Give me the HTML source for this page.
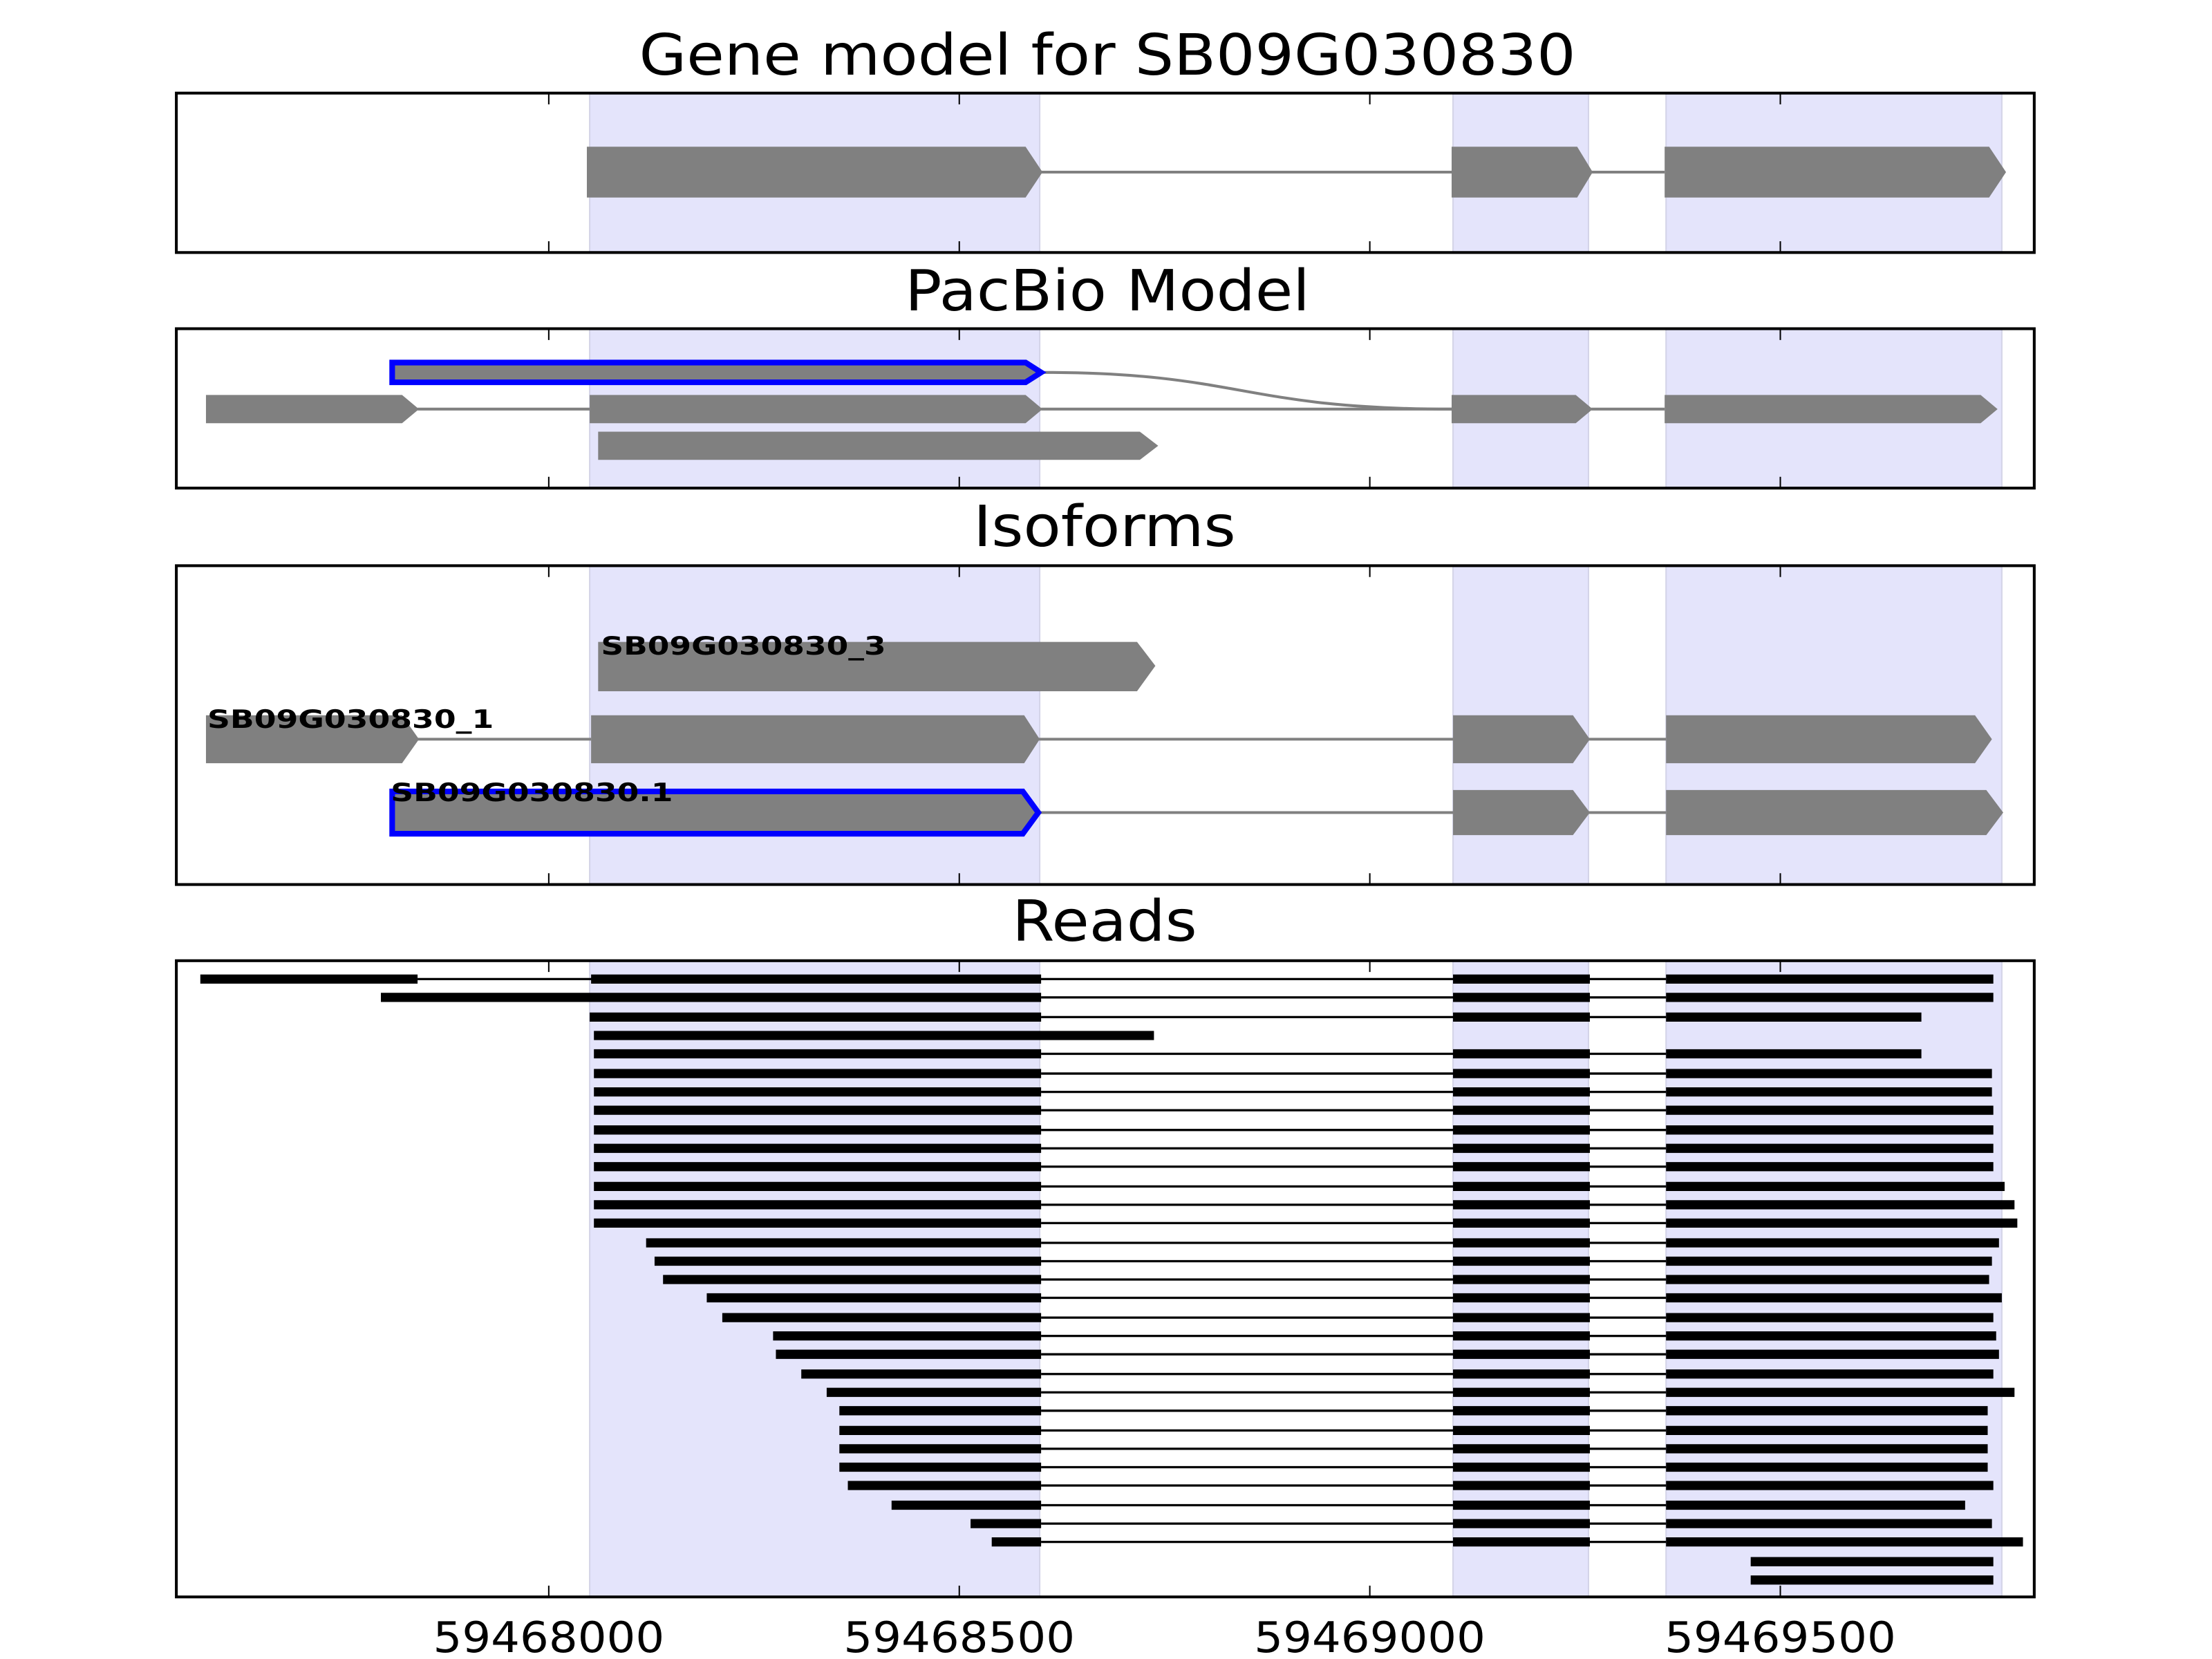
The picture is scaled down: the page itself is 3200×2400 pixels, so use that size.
<!DOCTYPE html>
<html><head><meta charset="utf-8"><style>html,body{margin:0;padding:0;background:#fff}svg{display:block}</style></head>
<body>
<svg xmlns="http://www.w3.org/2000/svg" width="3200" height="2400" viewBox="0 0 1568 1176" preserveAspectRatio="none" font-family="DejaVu Sans, Liberation Sans, sans-serif">
<rect width="1568" height="1176" fill="#fff"/>
<!-- Titles -->
<text x="785" y="53" font-size="40" text-anchor="middle" textLength="664" lengthAdjust="spacingAndGlyphs">Gene model for SB09G030830</text>
<text x="785" y="220" font-size="40" text-anchor="middle" textLength="287" lengthAdjust="spacingAndGlyphs">PacBio Model</text>
<text x="783" y="387" font-size="40" text-anchor="middle" textLength="186" lengthAdjust="spacingAndGlyphs">Isoforms</text>
<text x="783" y="667" font-size="40" text-anchor="middle" textLength="131" lengthAdjust="spacingAndGlyphs">Reads</text>

<g fill="#e4e4fb" stroke="#d4d4e8" stroke-width="1">
<rect x="418" y="66" width="319" height="113"/><rect x="1030" y="66" width="96" height="113"/><rect x="1181" y="66" width="238" height="113"/>
<rect x="418" y="233" width="319" height="113"/><rect x="1030" y="233" width="96" height="113"/><rect x="1181" y="233" width="238" height="113"/>
<rect x="418" y="401" width="319" height="226"/><rect x="1030" y="401" width="96" height="226"/><rect x="1181" y="401" width="238" height="226"/>
<rect x="418" y="681" width="319" height="451"/><rect x="1030" y="681" width="96" height="451"/><rect x="1181" y="681" width="238" height="451"/>
</g>

<!-- Panel 1 -->
<g stroke="#808080" stroke-width="2" fill="none"><line x1="737" y1="122" x2="1030" y2="122"/><line x1="1127" y1="122" x2="1180" y2="122"/></g>
<g fill="#808080">
<polygon points="416,104 727,104 739,122 727,140 416,140"/>
<polygon points="1029,104 1118,104 1129,122 1118,140 1029,140"/>
<polygon points="1180,104 1410,104 1422,122 1410,140 1180,140"/>
</g>

<!-- Panel 2 -->
<g stroke="#808080" stroke-width="2" fill="none">
<path d="M739,264 C880,264 880,290 1029,290"/>
<line x1="296" y1="290" x2="418" y2="290"/><line x1="738" y1="290" x2="1029" y2="290"/><line x1="1128" y1="290" x2="1180" y2="290"/>
</g>
<g fill="#808080">
<polygon points="146,280 285,280 297,290 285,300 146,300"/>
<polygon points="418,280 727,280 739,290 727,300 418,300"/>
<polygon points="1029,280 1117,280 1129,290 1117,300 1029,300"/>
<polygon points="1180,280 1404,280 1416,290 1404,300 1180,300"/>
<polygon points="424,306 808,306 821,316 808,326 424,326"/>
</g>
<polygon points="278,257 727,257 738,264 727,271 278,271" fill="#808080" stroke="#0000ff" stroke-width="4"/>

<!-- Panel 3 -->
<g stroke="#808080" stroke-width="2" fill="none">
<line x1="296" y1="524" x2="419" y2="524"/><line x1="736" y1="524" x2="1030" y2="524"/><line x1="1126" y1="524" x2="1181" y2="524"/>
<line x1="736" y1="576" x2="1030" y2="576"/><line x1="1126" y1="576" x2="1181" y2="576"/>
</g>
<g fill="#808080">
<polygon points="424,455 806,455 819,472 806,490 424,490"/>
<polygon points="146,507 285,507 297,524 285,541 146,541"/>
<polygon points="419,507 726,507 737,524 726,541 419,541"/>
<polygon points="1030,507 1115,507 1127,524 1115,541 1030,541"/>
<polygon points="1181,507 1400,507 1412,524 1400,541 1181,541"/>
<polygon points="1030,560 1115,560 1127,576 1115,592 1030,592"/>
<polygon points="1181,560 1408,560 1420,576 1408,592 1181,592"/>
</g>
<polygon points="278,561 725,561 736,576 725,591 278,591" fill="#808080" stroke="#0000ff" stroke-width="4"/>
<g font-size="18" font-weight="bold" fill="#000">
<text x="426" y="464" textLength="202" lengthAdjust="spacingAndGlyphs">SB09G030830_3</text>
<text x="147" y="516" textLength="203" lengthAdjust="spacingAndGlyphs">SB09G030830_1</text>
<text x="277" y="568" textLength="200" lengthAdjust="spacingAndGlyphs">SB09G030830.1</text>
</g>

<!-- Panel 4 reads -->
<g stroke="#000" stroke-linecap="butt">
<g stroke-width="1.6">
<line x1="296" y1="694" x2="1181" y2="694"/>
<line x1="738" y1="707" x2="1181" y2="707"/>
<line x1="738" y1="721" x2="1181" y2="721"/>
<line x1="738" y1="747" x2="1181" y2="747"/><line x1="738" y1="761" x2="1181" y2="761"/><line x1="738" y1="774" x2="1181" y2="774"/>
<line x1="738" y1="787" x2="1181" y2="787"/><line x1="738" y1="801" x2="1181" y2="801"/><line x1="738" y1="814" x2="1181" y2="814"/>
<line x1="738" y1="827" x2="1181" y2="827"/><line x1="738" y1="841" x2="1181" y2="841"/><line x1="738" y1="854" x2="1181" y2="854"/>
<line x1="738" y1="867" x2="1181" y2="867"/><line x1="738" y1="881" x2="1181" y2="881"/><line x1="738" y1="894" x2="1181" y2="894"/>
<line x1="738" y1="907" x2="1181" y2="907"/><line x1="738" y1="920" x2="1181" y2="920"/><line x1="738" y1="934" x2="1181" y2="934"/>
<line x1="738" y1="947" x2="1181" y2="947"/><line x1="738" y1="960" x2="1181" y2="960"/><line x1="738" y1="974" x2="1181" y2="974"/>
<line x1="738" y1="987" x2="1181" y2="987"/><line x1="738" y1="1000" x2="1181" y2="1000"/><line x1="738" y1="1014" x2="1181" y2="1014"/>
<line x1="738" y1="1027" x2="1181" y2="1027"/><line x1="738" y1="1040" x2="1181" y2="1040"/><line x1="738" y1="1053" x2="1181" y2="1053"/>
<line x1="738" y1="1067" x2="1181" y2="1067"/><line x1="738" y1="1080" x2="1181" y2="1080"/><line x1="738" y1="1093" x2="1181" y2="1093"/>
</g>
<g stroke-width="6.5">
<line x1="142" y1="694" x2="296" y2="694"/><line x1="419" y1="694" x2="738" y2="694"/><line x1="1030" y1="694" x2="1127" y2="694"/><line x1="1181" y1="694" x2="1413" y2="694"/>
<line x1="270" y1="707" x2="738" y2="707"/><line x1="1030" y1="707" x2="1127" y2="707"/><line x1="1181" y1="707" x2="1413" y2="707"/>
<line x1="418" y1="721" x2="738" y2="721"/><line x1="1030" y1="721" x2="1127" y2="721"/><line x1="1181" y1="721" x2="1362" y2="721"/>
<line x1="421" y1="734" x2="818" y2="734"/>
<line x1="421" y1="747" x2="738" y2="747"/><line x1="1030" y1="747" x2="1127" y2="747"/><line x1="1181" y1="747" x2="1362" y2="747"/>
<line x1="421" y1="761" x2="738" y2="761"/><line x1="1030" y1="761" x2="1127" y2="761"/><line x1="1181" y1="761" x2="1412" y2="761"/>
<line x1="421" y1="774" x2="738" y2="774"/><line x1="1030" y1="774" x2="1127" y2="774"/><line x1="1181" y1="774" x2="1412" y2="774"/>
<line x1="421" y1="787" x2="738" y2="787"/><line x1="1030" y1="787" x2="1127" y2="787"/><line x1="1181" y1="787" x2="1413" y2="787"/>
<line x1="421" y1="801" x2="738" y2="801"/><line x1="1030" y1="801" x2="1127" y2="801"/><line x1="1181" y1="801" x2="1413" y2="801"/>
<line x1="421" y1="814" x2="738" y2="814"/><line x1="1030" y1="814" x2="1127" y2="814"/><line x1="1181" y1="814" x2="1413" y2="814"/>
<line x1="421" y1="827" x2="738" y2="827"/><line x1="1030" y1="827" x2="1127" y2="827"/><line x1="1181" y1="827" x2="1413" y2="827"/>
<line x1="421" y1="841" x2="738" y2="841"/><line x1="1030" y1="841" x2="1127" y2="841"/><line x1="1181" y1="841" x2="1421" y2="841"/>
<line x1="421" y1="854" x2="738" y2="854"/><line x1="1030" y1="854" x2="1127" y2="854"/><line x1="1181" y1="854" x2="1428" y2="854"/>
<line x1="421" y1="867" x2="738" y2="867"/><line x1="1030" y1="867" x2="1127" y2="867"/><line x1="1181" y1="867" x2="1430" y2="867"/>
<line x1="458" y1="881" x2="738" y2="881"/><line x1="1030" y1="881" x2="1127" y2="881"/><line x1="1181" y1="881" x2="1417" y2="881"/>
<line x1="464" y1="894" x2="738" y2="894"/><line x1="1030" y1="894" x2="1127" y2="894"/><line x1="1181" y1="894" x2="1412" y2="894"/>
<line x1="470" y1="907" x2="738" y2="907"/><line x1="1030" y1="907" x2="1127" y2="907"/><line x1="1181" y1="907" x2="1410" y2="907"/>
<line x1="501" y1="920" x2="738" y2="920"/><line x1="1030" y1="920" x2="1127" y2="920"/><line x1="1181" y1="920" x2="1419" y2="920"/>
<line x1="512" y1="934" x2="738" y2="934"/><line x1="1030" y1="934" x2="1127" y2="934"/><line x1="1181" y1="934" x2="1413" y2="934"/>
<line x1="548" y1="947" x2="738" y2="947"/><line x1="1030" y1="947" x2="1127" y2="947"/><line x1="1181" y1="947" x2="1415" y2="947"/>
<line x1="550" y1="960" x2="738" y2="960"/><line x1="1030" y1="960" x2="1127" y2="960"/><line x1="1181" y1="960" x2="1417" y2="960"/>
<line x1="568" y1="974" x2="738" y2="974"/><line x1="1030" y1="974" x2="1127" y2="974"/><line x1="1181" y1="974" x2="1413" y2="974"/>
<line x1="586" y1="987" x2="738" y2="987"/><line x1="1030" y1="987" x2="1127" y2="987"/><line x1="1181" y1="987" x2="1428" y2="987"/>
<line x1="595" y1="1000" x2="738" y2="1000"/><line x1="1030" y1="1000" x2="1127" y2="1000"/><line x1="1181" y1="1000" x2="1409" y2="1000"/>
<line x1="595" y1="1014" x2="738" y2="1014"/><line x1="1030" y1="1014" x2="1127" y2="1014"/><line x1="1181" y1="1014" x2="1409" y2="1014"/>
<line x1="595" y1="1027" x2="738" y2="1027"/><line x1="1030" y1="1027" x2="1127" y2="1027"/><line x1="1181" y1="1027" x2="1409" y2="1027"/>
<line x1="595" y1="1040" x2="738" y2="1040"/><line x1="1030" y1="1040" x2="1127" y2="1040"/><line x1="1181" y1="1040" x2="1409" y2="1040"/>
<line x1="601" y1="1053" x2="738" y2="1053"/><line x1="1030" y1="1053" x2="1127" y2="1053"/><line x1="1181" y1="1053" x2="1413" y2="1053"/>
<line x1="632" y1="1067" x2="738" y2="1067"/><line x1="1030" y1="1067" x2="1127" y2="1067"/><line x1="1181" y1="1067" x2="1393" y2="1067"/>
<line x1="688" y1="1080" x2="738" y2="1080"/><line x1="1030" y1="1080" x2="1127" y2="1080"/><line x1="1181" y1="1080" x2="1412" y2="1080"/>
<line x1="703" y1="1093" x2="738" y2="1093"/><line x1="1030" y1="1093" x2="1127" y2="1093"/><line x1="1181" y1="1093" x2="1434" y2="1093"/>
<line x1="1241" y1="1107" x2="1413" y2="1107"/>
<line x1="1241" y1="1120" x2="1413" y2="1120"/>
</g>
</g>

<g fill="none" stroke="#000" stroke-width="2">
<rect x="125" y="66" width="1317" height="113"/>
<rect x="125" y="233" width="1317" height="113"/>
<rect x="125" y="401" width="1317" height="226"/>
<rect x="125" y="681" width="1317" height="451"/>
<path d="M389,66v8M680,66v8M971,66v8M1262,66v8M389,179v-8M680,179v-8M971,179v-8M1262,179v-8
M389,233v8M680,233v8M971,233v8M1262,233v8M389,346v-8M680,346v-8M971,346v-8M1262,346v-8
M389,401v8M680,401v8M971,401v8M1262,401v8M389,627v-8M680,627v-8M971,627v-8M1262,627v-8
M389,681v8M680,681v8M971,681v8M1262,681v8M389,1132v-8M680,1132v-8M971,1132v-8M1262,1132v-8" stroke-width="1"/>
</g>
<g font-size="30" text-anchor="middle">
<text x="389" y="1171" textLength="164" lengthAdjust="spacingAndGlyphs">59468000</text>
<text x="680" y="1171" textLength="164" lengthAdjust="spacingAndGlyphs">59468500</text>
<text x="971" y="1171" textLength="164" lengthAdjust="spacingAndGlyphs">59469000</text>
<text x="1262" y="1171" textLength="164" lengthAdjust="spacingAndGlyphs">59469500</text>
</g>
</svg>
</body></html>
